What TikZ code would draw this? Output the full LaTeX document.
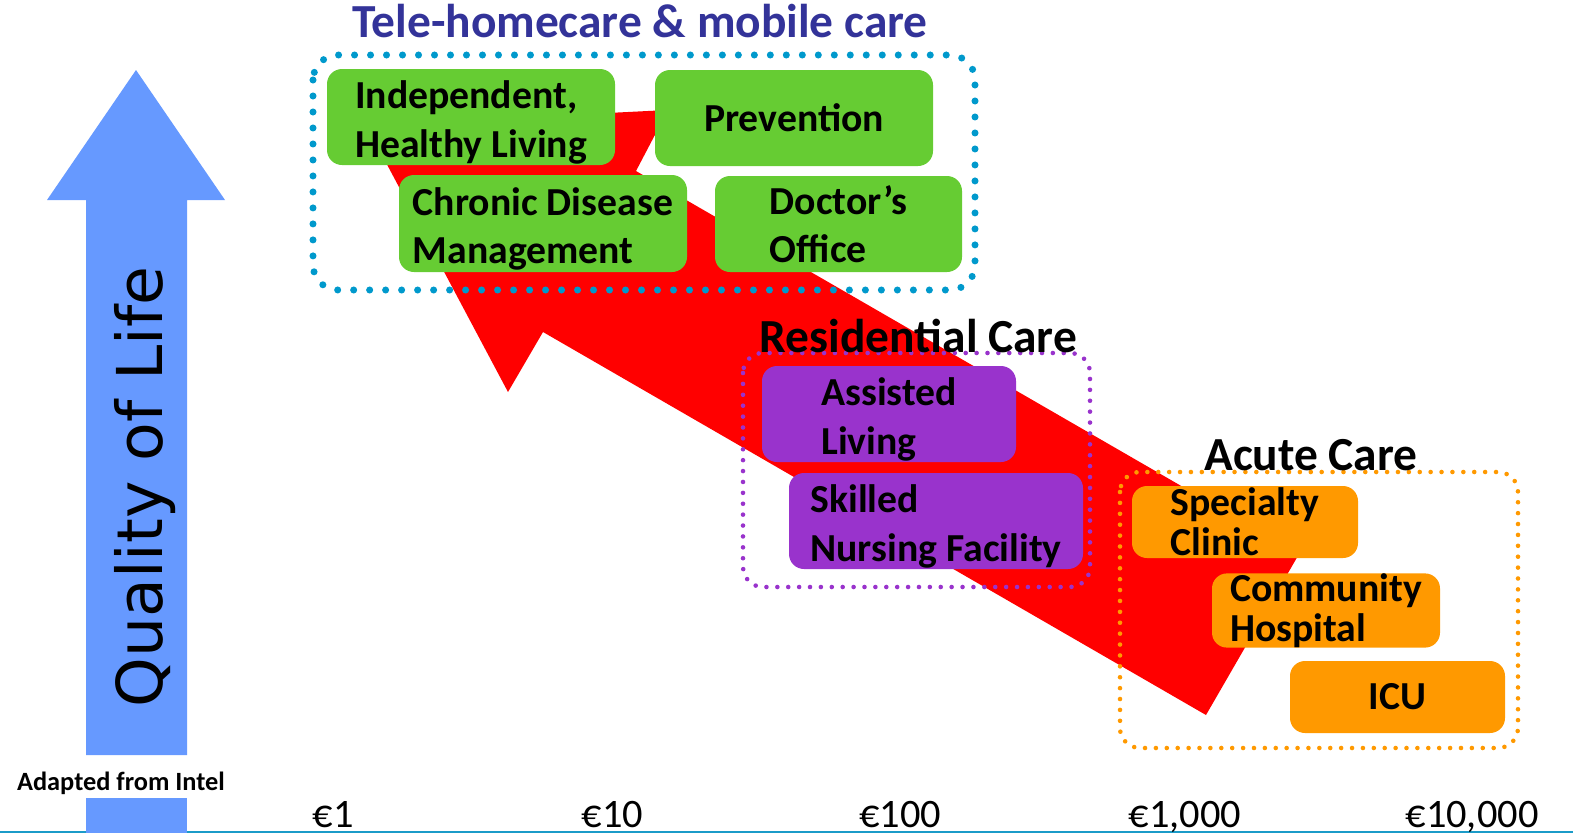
\documentclass[tikz,border=0pt]{standalone}
\usepackage{fontspec}
\setmainfont{Carlito}
\newfontfamily\qolfont{DejaVu Sans}
\usepackage{tikz}
\definecolor{homegreen}{HTML}{66CC33}
\definecolor{residpurple}{HTML}{9933CC}
\definecolor{acuteorange}{HTML}{FF9900}
\definecolor{qolblue}{HTML}{6699FF}
\definecolor{teledots}{HTML}{0099CC}
\definecolor{titleblue}{HTML}{333399}
\definecolor{axisline}{HTML}{1B9BC8}
\newcommand{\toproom}{\rule{0pt}{11pt}}

\begin{document}
\begin{tikzpicture}[
  carebox/.style={rounded corners=0.15cm, inner sep=0pt, align=left,
    font=\bfseries\fontsize{11.3}{13.7}\selectfont},
  homebox/.style={carebox, fill=homegreen},
  residbox/.style={carebox, fill=residpurple},
  acutebox/.style={carebox, fill=acuteorange,
    font=\bfseries\fontsize{11.3}{11.4}\selectfont},
  careframe/.style={rounded corners=0.25cm, line cap=round,
    dash pattern=on 0pt off 3.1pt, line width=1.3pt},
  heading/.style={anchor=base, font=\bfseries\fontsize{13.5}{16}\selectfont},
  cost/.style={anchor=base, font=\fontsize{11.5}{14}\selectfont}
]
  \useasboundingbox (0,0) rectangle (15.73,8.33);
  \draw[axisline, line width=0.5pt] (0,0.01) -- (15.73,0.01);

  \fill[qolblue] (1.36,7.63) -- (2.25,6.33) -- (1.87,6.33) -- (1.87,0.78)
    -- (0.86,0.78) -- (0.86,6.33) -- (0.47,6.33) -- cycle;
  \fill[qolblue] (0.86,0) rectangle (1.87,0.35);
  \node[rotate=90, anchor=base, font=\qolfont\fontsize{18}{22}\selectfont]
    (quality) at (1.62,3.46) {Quality of Life};
  \node[anchor=base, font=\bfseries\fontsize{7.5}{9}\selectfont]
    (intel) at (1.21,0.43) {Adapted from Intel};

  \fill[red] (3.66,7.08) -- (6.68,7.23) -- (6.36,6.62) -- (12.99,2.79)
    -- (12.06,1.18) -- (5.43,5.01) -- (5.08,4.41) -- cycle;

  \draw[careframe, teledots, line width=2pt, dash pattern=on 0pt off 4.55pt]
    (3.13,7.78) rectangle (9.75,5.43);
  \draw[careframe, residpurple, rounded corners=0.2cm] (7.43,4.80) rectangle (10.90,2.46);
  \draw[careframe, acuteorange, rounded corners=0.2cm] (11.20,3.61) rectangle (15.18,0.85);

  \node[homebox, minimum width=2.88cm, minimum height=0.96cm]
    (independent) at (4.71,7.16) {\toproom Independent,\\Healthy Living};
  \node[homebox, minimum width=2.78cm, minimum height=0.96cm]
    (prevention) at (7.94,7.15) {Prevention};
  \node[homebox, minimum width=2.88cm, minimum height=0.97cm]
    (chronic) at (5.43,6.095) {\toproom Chronic Disease\\Management};
  \node[homebox, minimum width=2.47cm, minimum height=0.96cm]
    (doctor) at (8.385,6.09) {Doctor’s\\Office};
  \node[residbox, minimum width=2.54cm, minimum height=0.96cm]
    (assisted) at (8.89,4.19) {\toproom Assisted\\Living};
  \node[residbox, minimum width=2.94cm, minimum height=0.96cm]
    (skilled) at (9.36,3.12) {\toproom Skilled\\Nursing Facility};
  \node[acutebox, minimum width=2.26cm, minimum height=0.72cm]
    (specialty) at (12.45,3.11) {Specialty\\Clinic};
  \node[acutebox, minimum width=2.28cm, minimum height=0.73cm]
    (community) at (13.26,2.225) {Community\\Hospital};
  \node[acutebox, minimum width=2.15cm, minimum height=0.72cm]
    (icu) at (13.975,1.36) {ICU};

  \node[heading, text=titleblue] (telehome) at (6.40,7.96) {Tele-homecare \& mobile care};
  \node[heading] (residential) at (9.185,4.81) {Residential Care};
  \node[heading] (acute) at (13.11,3.63) {Acute Care};

  \node[cost] (eur1) at (3.33,0.06) {€1};
  \node[cost] (eur10) at (6.125,0.06) {€10};
  \node[cost] (eur100) at (9.00,0.06) {€100};
  \node[cost] (eur1000) at (11.85,0.06) {€1,000};
  \node[cost] (eur10000) at (14.72,0.06) {€10,000};
\end{tikzpicture}
\end{document}
